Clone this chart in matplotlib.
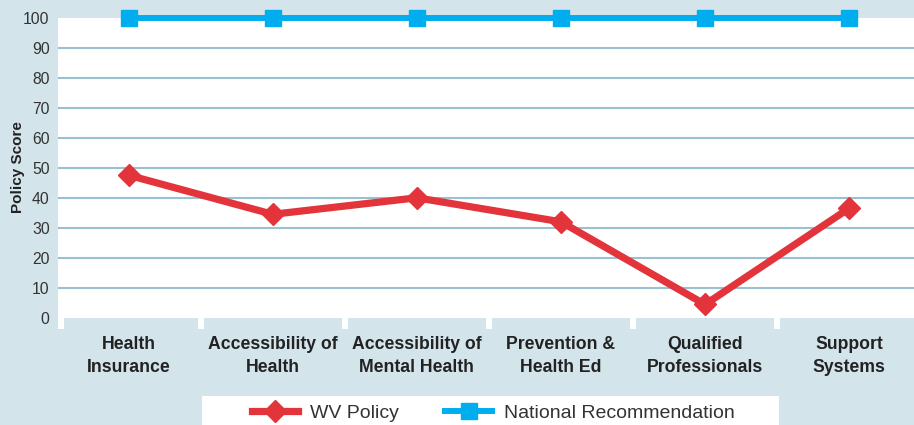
import matplotlib.pyplot as plt
from matplotlib.patches import Rectangle
import numpy as np

# Data
categories = ['Health\nInsurance', 'Accessibility of\nHealth', 'Accessibility of\nMental Health',
              'Prevention &\nHealth Ed', 'Qualified\nProfessionals', 'Support\nSystems']
wv_policy = [47.5, 34.5, 40, 32, 4.5, 36.5]
national_rec = [100, 100, 100, 100, 100, 100]
y_ticks = [0, 10, 20, 30, 40, 50, 60, 70, 80, 90, 100]

bg = '#d3e4eb'
grid_col = '#98c1d1'
red = '#e3343c'
blue = '#00aeef'
txt = '#333333'

plt.rcParams['font.family'] = ['Liberation Sans', 'DejaVu Sans']

fig = plt.figure(figsize=(9.14, 4.25), dpi=100, facecolor=bg)
W, H = 914, 425
ax = fig.add_axes([58 / W, 1 - 329 / H, 1 - 58 / W, (329 - 17.5) / H])
ax.set_facecolor('white')

x = np.arange(len(categories))
ax.set_xlim(-0.49, 5.45)
ax.set_ylim(-3.67, 100)

# gridlines
for yv in y_ticks[1:-1]:
    ax.axhline(yv, color=grid_col, lw=1.5, zorder=1)

# category boxes under the plot area
ax.add_patch(Rectangle((-0.45, -5), 0.45 + 0.479, 5, facecolor=bg, edgecolor='none', zorder=2))
for i in x[1:]:
    ax.add_patch(Rectangle((i - 0.479, -5), 0.958, 5, facecolor=bg, edgecolor='none', zorder=2))

# lines
ax.plot(x, wv_policy, color=red, lw=5.2, marker='D', ms=11.5, zorder=4, label='WV Policy')
ax.plot(x, national_rec, color=blue, lw=4.3, marker='s', ms=12.2, zorder=4,
        clip_on=False, label='National Recommendation')

for s in ax.spines.values():
    s.set_visible(False)

ax.set_yticks(y_ticks)
ax.set_yticklabels([str(v) for v in y_ticks], fontsize=11.3, color=txt)
ax.tick_params(axis='y', length=0, pad=6)
ax.set_xticks(x)
ax.set_xticklabels(categories, fontsize=12.7, fontweight='bold', color='#222222', linespacing=1.5)
ax.tick_params(axis='x', length=0, pad=5)

fig.text(18 / W, 1 - 167 / H, 'Policy Score', rotation=90, fontsize=11, fontweight='bold',
         color='#222222', ha='center', va='center')

# legend box
fig.patches.append(Rectangle((202 / W, 0), 577 / W, 29.5 / H, transform=fig.transFigure,
                             facecolor='white', edgecolor='none', zorder=0))
fig.legend(loc='center', bbox_to_anchor=(493 / W, 1 - 413 / H), ncol=2, frameon=False,
           fontsize=14, handlelength=2.4, handletextpad=0.6, columnspacing=2.4,
           labelcolor=txt)

fig.savefig('out.png', dpi=100, facecolor=bg)
